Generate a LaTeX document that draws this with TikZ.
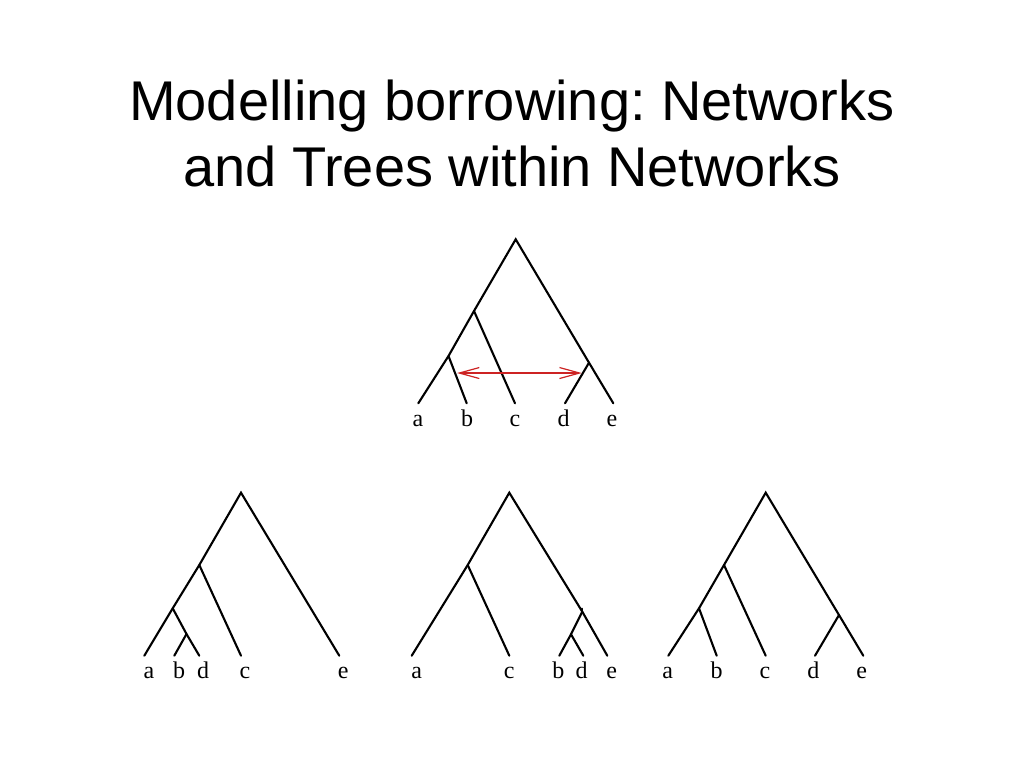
\documentclass[tikz,border=0pt]{standalone}
\usepackage{fontspec}
\setmainfont{Liberation Serif}
\newfontfamily\titlefont{Liberation Sans}
\usetikzlibrary{arrows.meta,calc}
\begin{document}
\frenchspacing
\begin{tikzpicture}[x=1pt,y=-1pt,
  branch/.style={line width=2.1pt,line cap=round},
  leaflabel/.style={anchor=base,inner sep=0pt,font=\fontsize{24}{24}\selectfont},
  borrow/.style={line width=1.2pt,draw={rgb,255:red,205;green,35;blue,35},
    {Straight Barb[length=20pt,width=11pt,line width=1.2pt]}-{Straight Barb[length=20pt,width=11pt,line width=1.2pt]}}]
\useasboundingbox[fill=white] (0,0) rectangle (1024,768);
% title
\node[font=\titlefont\fontsize{56}{66}\selectfont,align=center,anchor=base,inner sep=0pt] (title) at (512,186)
  {Modelling borrowing: Networks\\and Trees within Networks};

% ---------- top network ----------
\coordinate (T-r) at (515.7,239.3);
\coordinate (T-ac) at (474,311);
\coordinate (T-ab) at (448.5,356);
\coordinate (T-de) at (589,362.7);
\coordinate (T-a) at (418.3,403.3);
\coordinate (T-b) at (466.7,403.3);
\coordinate (T-c) at (515,403.3);
\coordinate (T-d) at (565,403.3);
\coordinate (T-e) at (613.3,403.3);
\draw[branch] (T-a) -- (T-ab) -- (T-ac) -- (T-r) -- (T-de) -- (T-e);
\draw[branch] (T-ab) -- (T-b);
\draw[branch] (T-ac) -- (T-c);
\draw[branch] (T-de) -- (T-d);
\coordinate (T-bx) at ($(T-ab)!0.36!(T-b)$);
\coordinate (T-dx) at ($(T-de)!0.26!(T-d)$);
\path (T-bx) ++(2,0) coordinate (T-bs) (T-dx) ++(-1,0) coordinate (T-ds);
\draw[borrow] (T-bs) -- (T-ds |- T-bs);
\node[leaflabel] (Tl-a) at (418,426.5) {a};
\node[leaflabel] (Tl-b) at (467,426.5) {b};
\node[leaflabel] (Tl-c) at (515,426.5) {c};
\node[leaflabel] (Tl-d) at (563.5,426.5) {d};
\node[leaflabel] (Tl-e) at (612,426.5) {e};

% ---------- bottom left tree ----------
\coordinate (L-r) at (241,492.7);
\coordinate (L-x) at (199.3,565);
\coordinate (L-y) at (172.7,608.3);
\coordinate (L-z) at (186.5,634);
\coordinate (L-a) at (144.3,655.7);
\coordinate (L-b) at (174.3,655.7);
\coordinate (L-d) at (199.3,655.7);
\coordinate (L-c) at (241,655.7);
\coordinate (L-e) at (339.3,655.7);
\draw[branch] (L-a) -- (L-y) -- (L-x) -- (L-r) -- (L-e);
\draw[branch] (L-y) -- (L-z) -- (L-d);
\draw[branch] (L-z) -- (L-b);
\draw[branch] (L-x) -- (L-c);
\node[leaflabel] (Ll-a) at (149,678.3) {a};
\node[leaflabel] (Ll-b) at (179,678.3) {b};
\node[leaflabel] (Ll-d) at (203,678.3) {d};
\node[leaflabel] (Ll-c) at (245,678.3) {c};
\node[leaflabel] (Ll-e) at (343.3,678.3) {e};

% ---------- bottom middle tree ----------
\coordinate (M-r) at (509.3,492.7);
\coordinate (M-x) at (467.7,565);
\coordinate (M-y) at (582.3,611.7);
\coordinate (M-z) at (571,634.3);
\coordinate (M-a) at (411.7,655.7);
\coordinate (M-c) at (509.3,655.7);
\coordinate (M-b) at (559.3,655.7);
\coordinate (M-d) at (583.3,655.7);
\coordinate (M-e) at (607.3,655.7);
\draw[branch] (M-a) -- (M-x) -- (M-r) -- (M-y) -- (M-e);
\draw[branch] (M-x) -- (M-c);
\draw[branch] (M-y) -- (M-z) -- (M-b);
\draw[branch] (M-z) -- (M-d);
\draw[branch] (M-y) -- ++(0,-3);
\node[leaflabel] (Ml-a) at (416.7,678.3) {a};
\node[leaflabel] (Ml-c) at (509.3,678.3) {c};
\node[leaflabel] (Ml-b) at (558.3,678.3) {b};
\node[leaflabel] (Ml-d) at (581.7,678.3) {d};
\node[leaflabel] (Ml-e) at (611.7,678.3) {e};

% ---------- bottom right tree ----------
\coordinate (R-r) at (765.7,492.7);
\coordinate (R-x) at (724,565);
\coordinate (R-y) at (699,608.3);
\coordinate (R-z) at (839,615);
\coordinate (R-a) at (668.3,655.7);
\coordinate (R-b) at (716.7,655.7);
\coordinate (R-c) at (765.7,655.7);
\coordinate (R-d) at (815,655.7);
\coordinate (R-e) at (863.3,655.7);
\draw[branch] (R-a) -- (R-y) -- (R-x) -- (R-r) -- (R-z) -- (R-e);
\draw[branch] (R-y) -- (R-b);
\draw[branch] (R-x) -- (R-c);
\draw[branch] (R-z) -- (R-d);
\node[leaflabel] (Rl-a) at (667.7,678.3) {a};
\node[leaflabel] (Rl-b) at (716.7,678.3) {b};
\node[leaflabel] (Rl-c) at (765,678.3) {c};
\node[leaflabel] (Rl-d) at (813.3,678.3) {d};
\node[leaflabel] (Rl-e) at (861.7,678.3) {e};
\end{tikzpicture}
\end{document}
